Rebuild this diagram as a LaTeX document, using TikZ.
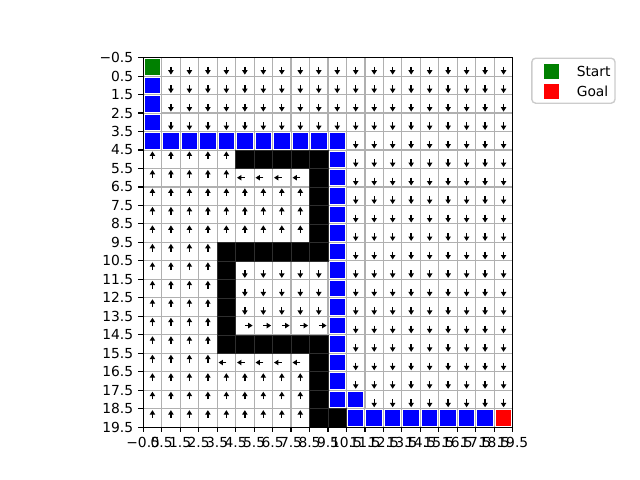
\documentclass[tikz,border=0pt]{standalone}
\usepackage{fontspec}
\setmainfont{DejaVu Sans}
\usetikzlibrary{arrows.meta}
\definecolor{gridc}{gray}{0.69}
\definecolor{walgrid}{gray}{0.18}
\definecolor{legc}{gray}{0.8}
\definecolor{mgreen}{HTML}{008000}
\begin{document}
\begin{tikzpicture}[x=0.254mm,y=-0.254mm,
  gridline/.style={draw=gridc, line width=0.8pt},
  qv/.style={line width=1pt, -{Triangle[length=3.2pt,width=3.8pt]}, shorten >=0pt},
  mkr/.style={draw=white, line width=0.7pt},
  ticklab/.style={inner sep=0pt, font=\fontsize{10pt}{12pt}\selectfont},
  tickline/.style={line width=0.8pt}]
\useasboundingbox (0,0) rectangle (640,480);
\def\L{143.2}\def\T{57.6}\def\cs{18.48}
% grid
\foreach \i in {1,...,19} {
  \draw[gridline] ({\L+\i*\cs},\T) -- ({\L+\i*\cs},{\T+20*\cs});
  \draw[gridline] (\L,{\T+\i*\cs}) -- ({\L+20*\cs},{\T+\i*\cs});
}
% black walls (cells, with faint dark grid lines between them)
\foreach \r/\ca/\cb in {5/5/9,6/9/9,7/9/9,8/9/9,9/9/9,10/4/9,11/4/4,12/4/4,13/4/4,14/4/4,15/4/9,16/9/9,17/9/9,18/9/9,19/9/10}
  \foreach \c in {\ca,...,\cb}
    \filldraw[fill=black, draw=walgrid, line width=0.4pt] ({\L+\c*\cs},{\T+\r*\cs}) rectangle ++(\cs,\cs);
% path markers
\foreach \r/\ca/\cb in {1/0/0,2/0/0,3/0/0,4/0/10,5/10/10,6/10/10,7/10/10,8/10/10,9/10/10,10/10/10,11/10/10,12/10/10,13/10/10,14/10/10,15/10/10,16/10/10,17/10/10,18/10/11,19/11/18}
  \foreach \c in {\ca,...,\cb}
    \filldraw[mkr, fill=blue] ({\L+(\c+0.5)*\cs-8.25},{\T+(\r+0.5)*\cs-8.25}) rectangle ++(16.5,16.5);
\filldraw[mkr, fill=mgreen] ({\L+0.5*\cs-8.25},{\T+0.5*\cs-8.25}) rectangle ++(16.5,16.5);
\filldraw[mkr, fill=red] ({\L+19.5*\cs-8.25},{\T+19.5*\cs-8.25}) rectangle ++(16.5,16.5);
% arrows down
\foreach \r/\ca/\cb in {0/1/19,1/1/19,2/1/19,3/1/19,4/11/19,5/11/19,6/11/19,7/11/19,8/11/19,9/11/19,10/11/19,11/11/19,12/11/19,13/11/19,14/11/19,15/11/19,16/11/19,17/11/19,18/12/19,11/5/9,12/5/9,13/5/9}
  \foreach \c in {\ca,...,\cb}
    \draw[qv] ({\L+(\c+0.5)*\cs},{\T+(\r+0.5)*\cs}) -- ++(0,7.8);
% arrows up
\foreach \r/\ca/\cb in {5/0/4,6/0/4,7/0/8,8/0/8,9/0/8,10/0/3,11/0/3,12/0/3,13/0/3,14/0/3,15/0/3,16/0/3,17/0/8,18/0/8,19/0/8}
  \foreach \c in {\ca,...,\cb}
    \draw[qv] ({\L+(\c+0.5)*\cs},{\T+(\r+0.5)*\cs}) -- ++(0,-7.8);
% arrows left
\foreach \r/\ca/\cb in {6/5/8,16/4/8}
  \foreach \c in {\ca,...,\cb}
    \draw[qv] ({\L+(\c+0.5)*\cs},{\T+(\r+0.5)*\cs}) -- ++(-7.8,0);
% arrows right
\foreach \c in {5,...,9}
  \draw[qv] ({\L+(\c+0.5)*\cs},{\T+14.5*\cs}) -- ++(7.8,0);
% frame
\draw[tickline] (\L,\T) rectangle ({\L+20*\cs},{\T+20*\cs});
% ticks and labels
\foreach \i in {0,...,20} {
  \draw[tickline] ({\L+\i*\cs},{\T+20*\cs}) -- ++(0,4.86);
  \draw[tickline] (\L,{\T+\i*\cs}) -- ++(-4.86,0);
  \ifnum\i=0
    \node[ticklab, anchor=north] (xt\i) at ({\L+\i*\cs},{\T+20*\cs+9.8}) {−0.5};
    \node[ticklab, anchor=east] (yt\i) at ({\L-9.8},{\T+\i*\cs}) {−0.5};
  \else
    \node[ticklab, anchor=north] (xt\i) at ({\L+\i*\cs},{\T+20*\cs+9.8}) {\the\numexpr\i-1\relax.5};
    \node[ticklab, anchor=east] (yt\i) at ({\L-9.8},{\T+\i*\cs}) {\the\numexpr\i-1\relax.5};
  \fi
}
% legend
\draw[draw=legc, fill=white, fill opacity=0.8, line width=1pt, rounded corners=2.8] (531.8,58.2) rectangle (615,103.2);
\filldraw[mkr, fill=mgreen] (543.2,63.1) rectangle ++(16.2,16.2);
\filldraw[mkr, fill=red] (543.2,83.1) rectangle ++(16.2,16.2);
\node[ticklab, anchor=west] (lstart) at (576.5,71.2) {Start};
\node[ticklab, anchor=west] (lgoal) at (576.5,91.2) {Goal};
\end{tikzpicture}
\end{document}
